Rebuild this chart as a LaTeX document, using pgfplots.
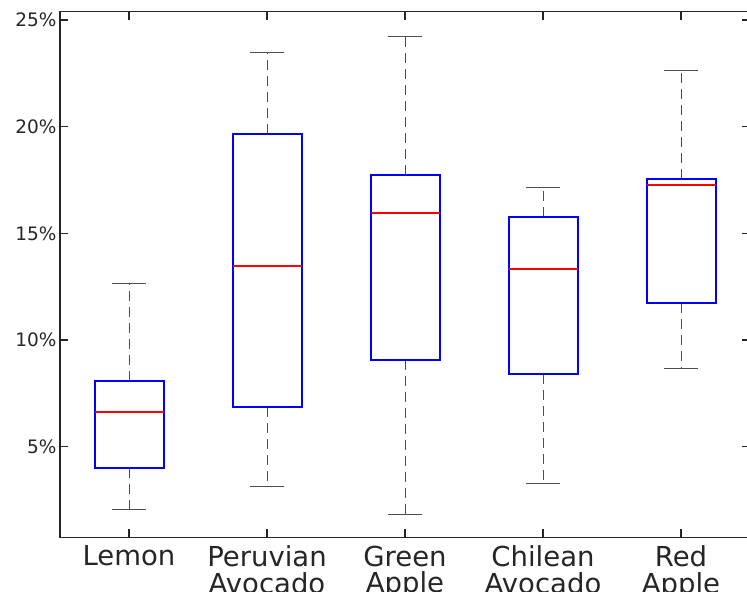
\documentclass[border=0pt]{standalone}
\usepackage{fontspec}
\setmainfont{DejaVu Sans}
\usepackage{pgfplots}
\pgfplotsset{compat=1.18}
\usepgfplotslibrary{statistics}
\definecolor{axgray}{HTML}{262626}
\definecolor{wgray}{HTML}{4D4D4D}
\begin{document}
\begin{tikzpicture}
\begin{axis}[
  name=ax,
  scale only axis,
  width=690pt, height=525.6pt,
  xmin=0.5, xmax=5.5, ymin=0.75, ymax=25.39,
  axis line style={axgray, line width=1.6pt},
  tick style={axgray, line width=1.6pt},
  major tick length=8pt,
  tick align=inside,
  /pgf/number format/assume math mode=true,
  xtick={1,2,3,4,5},
  xticklabels={Lemon, Peruvian\\Avocado, Green\\Apple, Chilean\\Avocado, Red\\Apple},
  xticklabel style={font=\fontsize{27.5}{26.5}\selectfont, align=center, text=axgray, yshift=-5pt},
  ytick={5,10,15,20,25},
  yticklabels={5\%,10\%,15\%,20\%,25\%},
  yticklabel style={font=\fontsize{18.5}{22}\selectfont, text=axgray},
  boxplot/draw direction=y,
  boxplot/box extend=0.5,
  boxplot/whisker extend=0.25,
  boxplot/every median/.style={red, line width=1.8pt},
  boxplot/every box/.style={blue, line width=2pt},
  boxplot/draw/lower whisker/.code={%
    \draw[wgray, line width=1pt, dash pattern=on 10pt off 6pt]
      (boxplot cs:\pgfplotsboxplotvalue{lower quartile}) -- (boxplot cs:\pgfplotsboxplotvalue{lower whisker});
    \draw[wgray, line width=1pt, solid]
      (boxplot whisker cs:\pgfplotsboxplotvalue{lower whisker},0) -- (boxplot whisker cs:\pgfplotsboxplotvalue{lower whisker},1);
  },
  boxplot/draw/upper whisker/.code={%
    \draw[wgray, line width=1pt, dash pattern=on 10pt off 6pt]
      (boxplot cs:\pgfplotsboxplotvalue{upper quartile}) -- (boxplot cs:\pgfplotsboxplotvalue{upper whisker});
    \draw[wgray, line width=1pt, solid]
      (boxplot whisker cs:\pgfplotsboxplotvalue{upper whisker},0) -- (boxplot whisker cs:\pgfplotsboxplotvalue{upper whisker},1);
  },
]
\addplot[blue, solid, boxplot prepared={draw position=1, lower whisker=2.07, lower quartile=4.00, median=6.62, upper quartile=8.08, upper whisker=12.67}] coordinates {};
\addplot[blue, solid, boxplot prepared={draw position=2, lower whisker=3.11, lower quartile=6.86, median=13.47, upper quartile=19.66, upper whisker=23.50}] coordinates {};
\addplot[blue, solid, boxplot prepared={draw position=3, lower whisker=1.84, lower quartile=9.06, median=15.95, upper quartile=17.73, upper whisker=24.25}] coordinates {};
\addplot[blue, solid, boxplot prepared={draw position=4, lower whisker=3.29, lower quartile=8.40, median=13.33, upper quartile=15.76, upper whisker=17.17}] coordinates {};
\addplot[blue, solid, boxplot prepared={draw position=5, lower whisker=8.64, lower quartile=11.73, median=17.26, upper quartile=17.55, upper whisker=22.61}] coordinates {};
\end{axis}
\pgfresetboundingbox
\path[use as bounding box] ([xshift=-60pt,yshift=-53.7pt]ax.south west) rectangle ([xshift=-3pt,yshift=11.7pt]ax.north east);
\end{tikzpicture}
\end{document}
